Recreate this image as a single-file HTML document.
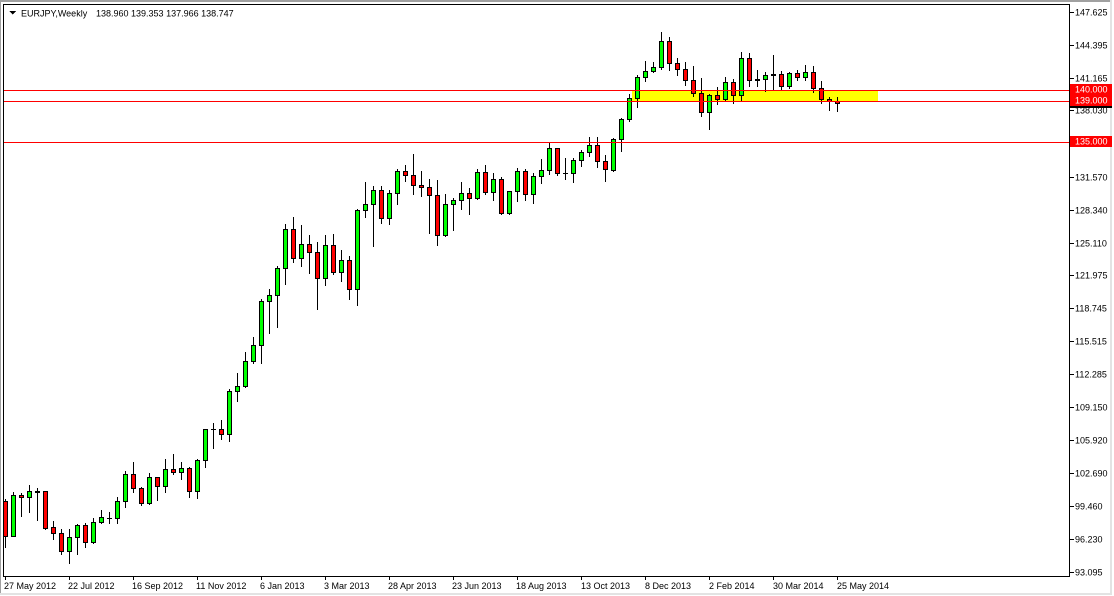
<!DOCTYPE html>
<html><head><meta charset="utf-8"><style>
html,body{margin:0;padding:0;background:#fff;}
svg{display:block;}
text{font-family:"Liberation Sans",sans-serif;font-size:9px;fill:#000;}
.g{fill:#00ff00;stroke:#000;stroke-width:1;}
.r{fill:#ff0000;stroke:#000;stroke-width:1;}
.w line{stroke:#000;stroke-width:1;}
</style></head><body>
<svg width="1114" height="596" viewBox="0 0 1114 596" xmlns="http://www.w3.org/2000/svg" shape-rendering="crispEdges">
<rect x="0" y="0" width="1114" height="596" fill="#fff"/>
<!-- outer border -->
<rect x="0" y="0" width="1112" height="2" fill="#a0a0a0"/>
<rect x="0" y="0" width="1" height="594" fill="#a0a0a0"/>
<rect x="1110" y="0" width="2" height="595" fill="#e3e3e3"/>
<rect x="0" y="593" width="1112" height="2" fill="#e3e3e3"/>

<!-- yellow zone -->
<rect x="632" y="90" width="246" height="12" fill="#ffff00"/>

<!-- candles -->
<g class="w">
<line x1="5.5" y1="499" x2="5.5" y2="548"/>
<line x1="13.5" y1="492" x2="13.5" y2="537"/>
<line x1="21.5" y1="493" x2="21.5" y2="517"/>
<line x1="29.5" y1="485" x2="29.5" y2="513"/>
<line x1="37.5" y1="488" x2="37.5" y2="521"/>
<line x1="45.5" y1="491" x2="45.5" y2="530"/>
<line x1="53.5" y1="521" x2="53.5" y2="540"/>
<line x1="61.5" y1="529" x2="61.5" y2="555"/>
<line x1="69.5" y1="529" x2="69.5" y2="564"/>
<line x1="77.5" y1="524" x2="77.5" y2="555"/>
<line x1="85.5" y1="523" x2="85.5" y2="548"/>
<line x1="93.5" y1="518" x2="93.5" y2="544"/>
<line x1="101.5" y1="510" x2="101.5" y2="524"/>
<line x1="109.5" y1="512" x2="109.5" y2="524"/>
<line x1="117.5" y1="497" x2="117.5" y2="524"/>
<line x1="125.5" y1="471" x2="125.5" y2="508"/>
<line x1="133.5" y1="462" x2="133.5" y2="493"/>
<line x1="141.5" y1="487" x2="141.5" y2="506"/>
<line x1="149.5" y1="473" x2="149.5" y2="505"/>
<line x1="157.5" y1="477" x2="157.5" y2="501"/>
<line x1="165.5" y1="459" x2="165.5" y2="493"/>
<line x1="173.5" y1="454" x2="173.5" y2="475"/>
<line x1="181.5" y1="462" x2="181.5" y2="480"/>
<line x1="189.5" y1="467" x2="189.5" y2="498"/>
<line x1="197.5" y1="459" x2="197.5" y2="499"/>
<line x1="205.5" y1="429" x2="205.5" y2="468"/>
<line x1="213.5" y1="423" x2="213.5" y2="449"/>
<line x1="221.5" y1="420" x2="221.5" y2="440"/>
<line x1="229.5" y1="389" x2="229.5" y2="442"/>
<line x1="237.5" y1="373" x2="237.5" y2="402"/>
<line x1="245.5" y1="352" x2="245.5" y2="388"/>
<line x1="253.5" y1="337" x2="253.5" y2="364"/>
<line x1="261.5" y1="299" x2="261.5" y2="364"/>
<line x1="269.5" y1="289" x2="269.5" y2="334"/>
<line x1="277.5" y1="266" x2="277.5" y2="328"/>
<line x1="285.5" y1="224" x2="285.5" y2="285"/>
<line x1="293.5" y1="217" x2="293.5" y2="263"/>
<line x1="301.5" y1="225" x2="301.5" y2="267"/>
<line x1="309.5" y1="235" x2="309.5" y2="274"/>
<line x1="317.5" y1="242" x2="317.5" y2="310"/>
<line x1="325.5" y1="235" x2="325.5" y2="286"/>
<line x1="333.5" y1="234" x2="333.5" y2="275"/>
<line x1="341.5" y1="250" x2="341.5" y2="282"/>
<line x1="349.5" y1="256" x2="349.5" y2="300"/>
<line x1="357.5" y1="209" x2="357.5" y2="306"/>
<line x1="365.5" y1="182" x2="365.5" y2="218"/>
<line x1="373.5" y1="186" x2="373.5" y2="247"/>
<line x1="381.5" y1="186" x2="381.5" y2="224"/>
<line x1="389.5" y1="190" x2="389.5" y2="225"/>
<line x1="397.5" y1="169" x2="397.5" y2="205"/>
<line x1="405.5" y1="165" x2="405.5" y2="182"/>
<line x1="413.5" y1="154" x2="413.5" y2="195"/>
<line x1="421.5" y1="171" x2="421.5" y2="197"/>
<line x1="429.5" y1="179" x2="429.5" y2="234"/>
<line x1="437.5" y1="180" x2="437.5" y2="246"/>
<line x1="445.5" y1="194" x2="445.5" y2="237"/>
<line x1="453.5" y1="198" x2="453.5" y2="231"/>
<line x1="461.5" y1="182" x2="461.5" y2="210"/>
<line x1="469.5" y1="188" x2="469.5" y2="215"/>
<line x1="477.5" y1="169" x2="477.5" y2="200"/>
<line x1="485.5" y1="165" x2="485.5" y2="195"/>
<line x1="493.5" y1="173" x2="493.5" y2="201"/>
<line x1="501.5" y1="177" x2="501.5" y2="215"/>
<line x1="509.5" y1="191" x2="509.5" y2="215"/>
<line x1="517.5" y1="168" x2="517.5" y2="202"/>
<line x1="525.5" y1="169" x2="525.5" y2="201"/>
<line x1="533.5" y1="173" x2="533.5" y2="204"/>
<line x1="541.5" y1="159" x2="541.5" y2="184"/>
<line x1="549.5" y1="142" x2="549.5" y2="175"/>
<line x1="557.5" y1="148" x2="557.5" y2="176"/>
<line x1="565.5" y1="158" x2="565.5" y2="180"/>
<line x1="573.5" y1="158" x2="573.5" y2="183"/>
<line x1="581.5" y1="150" x2="581.5" y2="167"/>
<line x1="589.5" y1="137" x2="589.5" y2="157"/>
<line x1="597.5" y1="137" x2="597.5" y2="168"/>
<line x1="605.5" y1="155" x2="605.5" y2="182"/>
<line x1="613.5" y1="138" x2="613.5" y2="172"/>
<line x1="621.5" y1="118" x2="621.5" y2="152"/>
<line x1="629.5" y1="94" x2="629.5" y2="122"/>
<line x1="637.5" y1="75" x2="637.5" y2="108"/>
<line x1="645.5" y1="61" x2="645.5" y2="82"/>
<line x1="653.5" y1="62" x2="653.5" y2="73"/>
<line x1="661.5" y1="32" x2="661.5" y2="70"/>
<line x1="669.5" y1="37" x2="669.5" y2="71"/>
<line x1="677.5" y1="58" x2="677.5" y2="76"/>
<line x1="685.5" y1="62" x2="685.5" y2="86"/>
<line x1="693.5" y1="66" x2="693.5" y2="97"/>
<line x1="701.5" y1="78" x2="701.5" y2="117"/>
<line x1="709.5" y1="94" x2="709.5" y2="130"/>
<line x1="717.5" y1="87" x2="717.5" y2="105"/>
<line x1="725.5" y1="77" x2="725.5" y2="102"/>
<line x1="733.5" y1="79" x2="733.5" y2="104"/>
<line x1="741.5" y1="52" x2="741.5" y2="101"/>
<line x1="749.5" y1="53" x2="749.5" y2="87"/>
<line x1="757.5" y1="70" x2="757.5" y2="87"/>
<line x1="765.5" y1="72" x2="765.5" y2="92"/>
<line x1="773.5" y1="55" x2="773.5" y2="91"/>
<line x1="781.5" y1="71" x2="781.5" y2="91"/>
<line x1="789.5" y1="72" x2="789.5" y2="89"/>
<line x1="797.5" y1="70" x2="797.5" y2="81"/>
<line x1="805.5" y1="65" x2="805.5" y2="81"/>
<line x1="813.5" y1="66" x2="813.5" y2="93"/>
<line x1="821.5" y1="81" x2="821.5" y2="104"/>
<line x1="829.5" y1="97" x2="829.5" y2="111"/>
<line x1="837.5" y1="97" x2="837.5" y2="112"/>
<!-- doji bars -->
<line x1="107" y1="518.5" x2="112" y2="518.5"/>
<line x1="211" y1="429.5" x2="216" y2="429.5"/>
<line x1="563" y1="173.5" x2="568" y2="173.5"/>
</g>
<g>
<rect class="r" x="3.5" y="501.5" width="4" height="35"/>
<rect class="g" x="11.5" y="495.5" width="4" height="41"/>
<rect class="r" x="19.5" y="495.5" width="4" height="2"/>
<rect class="g" x="27.5" y="491.5" width="4" height="6"/>
<rect class="g" x="35.5" y="491.5" width="4" height="1"/>
<rect class="r" x="43.5" y="491.5" width="4" height="37"/>
<rect class="r" x="51.5" y="527.5" width="4" height="6"/>
<rect class="r" x="59.5" y="533.5" width="4" height="18"/>
<rect class="g" x="67.5" y="537.5" width="4" height="14"/>
<rect class="g" x="75.5" y="525.5" width="4" height="12"/>
<rect class="r" x="83.5" y="525.5" width="4" height="17"/>
<rect class="g" x="91.5" y="522.5" width="4" height="20"/>
<rect class="g" x="99.5" y="517.5" width="4" height="5"/>
<rect class="g" x="115.5" y="501.5" width="4" height="17"/>
<rect class="g" x="123.5" y="474.5" width="4" height="27"/>
<rect class="r" x="131.5" y="474.5" width="4" height="14"/>
<rect class="r" x="139.5" y="488.5" width="4" height="15"/>
<rect class="g" x="147.5" y="477.5" width="4" height="26"/>
<rect class="r" x="155.5" y="477.5" width="4" height="9"/>
<rect class="g" x="163.5" y="469.5" width="4" height="17"/>
<rect class="r" x="171.5" y="469.5" width="4" height="3"/>
<rect class="g" x="179.5" y="468.5" width="4" height="4"/>
<rect class="r" x="187.5" y="468.5" width="4" height="23"/>
<rect class="g" x="195.5" y="460.5" width="4" height="31"/>
<rect class="g" x="203.5" y="429.5" width="4" height="31"/>
<rect class="r" x="219.5" y="429.5" width="4" height="5"/>
<rect class="g" x="227.5" y="391.5" width="4" height="43"/>
<rect class="g" x="235.5" y="386.5" width="4" height="5"/>
<rect class="g" x="243.5" y="361.5" width="4" height="25"/>
<rect class="g" x="251.5" y="345.5" width="4" height="16"/>
<rect class="g" x="259.5" y="301.5" width="4" height="44"/>
<rect class="g" x="267.5" y="295.5" width="4" height="6"/>
<rect class="g" x="275.5" y="268.5" width="4" height="27"/>
<rect class="g" x="283.5" y="229.5" width="4" height="39"/>
<rect class="r" x="291.5" y="229.5" width="4" height="29"/>
<rect class="g" x="299.5" y="244.5" width="4" height="14"/>
<rect class="r" x="307.5" y="244.5" width="4" height="8"/>
<rect class="r" x="315.5" y="252.5" width="4" height="26"/>
<rect class="g" x="323.5" y="245.5" width="4" height="33"/>
<rect class="r" x="331.5" y="245.5" width="4" height="27"/>
<rect class="g" x="339.5" y="260.5" width="4" height="12"/>
<rect class="r" x="347.5" y="260.5" width="4" height="29"/>
<rect class="g" x="355.5" y="210.5" width="4" height="79"/>
<rect class="g" x="363.5" y="204.5" width="4" height="6"/>
<rect class="g" x="371.5" y="190.5" width="4" height="14"/>
<rect class="r" x="379.5" y="190.5" width="4" height="28"/>
<rect class="g" x="387.5" y="193.5" width="4" height="25"/>
<rect class="g" x="395.5" y="171.5" width="4" height="22"/>
<rect class="r" x="403.5" y="171.5" width="4" height="4"/>
<rect class="r" x="411.5" y="175.5" width="4" height="10"/>
<rect class="r" x="419.5" y="185.5" width="4" height="2"/>
<rect class="r" x="427.5" y="187.5" width="4" height="8"/>
<rect class="r" x="435.5" y="195.5" width="4" height="40"/>
<rect class="g" x="443.5" y="204.5" width="4" height="31"/>
<rect class="g" x="451.5" y="200.5" width="4" height="4"/>
<rect class="g" x="459.5" y="193.5" width="4" height="7"/>
<rect class="r" x="467.5" y="193.5" width="4" height="5"/>
<rect class="g" x="475.5" y="172.5" width="4" height="26"/>
<rect class="r" x="483.5" y="172.5" width="4" height="20"/>
<rect class="g" x="491.5" y="179.5" width="4" height="13"/>
<rect class="r" x="499.5" y="179.5" width="4" height="34"/>
<rect class="g" x="507.5" y="191.5" width="4" height="22"/>
<rect class="g" x="515.5" y="171.5" width="4" height="20"/>
<rect class="r" x="523.5" y="171.5" width="4" height="23"/>
<rect class="g" x="531.5" y="176.5" width="4" height="18"/>
<rect class="g" x="539.5" y="170.5" width="4" height="6"/>
<rect class="g" x="547.5" y="148.5" width="4" height="22"/>
<rect class="r" x="555.5" y="148.5" width="4" height="25"/>
<rect class="g" x="571.5" y="160.5" width="4" height="13"/>
<rect class="g" x="579.5" y="152.5" width="4" height="8"/>
<rect class="g" x="587.5" y="145.5" width="4" height="7"/>
<rect class="r" x="595.5" y="145.5" width="4" height="16"/>
<rect class="r" x="603.5" y="161.5" width="4" height="8"/>
<rect class="g" x="611.5" y="139.5" width="4" height="31"/>
<rect class="g" x="619.5" y="119.5" width="4" height="20"/>
<rect class="g" x="627.5" y="98.5" width="4" height="21"/>
<rect class="g" x="635.5" y="77.5" width="4" height="21"/>
<rect class="g" x="643.5" y="71.5" width="4" height="6"/>
<rect class="g" x="651.5" y="67.5" width="4" height="4"/>
<rect class="g" x="659.5" y="41.5" width="4" height="26"/>
<rect class="r" x="667.5" y="41.5" width="4" height="22"/>
<rect class="r" x="675.5" y="63.5" width="4" height="6"/>
<rect class="r" x="683.5" y="69.5" width="4" height="11"/>
<rect class="r" x="691.5" y="80.5" width="4" height="13"/>
<rect class="r" x="699.5" y="93.5" width="4" height="19"/>
<rect class="g" x="707.5" y="95.5" width="4" height="17"/>
<rect class="r" x="715.5" y="95.5" width="4" height="4"/>
<rect class="g" x="723.5" y="82.5" width="4" height="17"/>
<rect class="r" x="731.5" y="82.5" width="4" height="13"/>
<rect class="g" x="739.5" y="58.5" width="4" height="37"/>
<rect class="r" x="747.5" y="58.5" width="4" height="22"/>
<rect class="r" x="755.5" y="79.5" width="4" height="1"/>
<rect class="g" x="763.5" y="75.5" width="4" height="4"/>
<rect class="g" x="771.5" y="74.5" width="4" height="1"/>
<rect class="r" x="779.5" y="74.5" width="4" height="12"/>
<rect class="g" x="787.5" y="73.5" width="4" height="13"/>
<rect class="r" x="795.5" y="73.5" width="4" height="4"/>
<rect class="g" x="803.5" y="72.5" width="4" height="5"/>
<rect class="r" x="811.5" y="72.5" width="4" height="16"/>
<rect class="r" x="819.5" y="88.5" width="4" height="11"/>
<rect class="r" x="827.5" y="99.5" width="4" height="2"/>
<rect class="r" x="835.5" y="101.5" width="4" height="2"/>
</g>

<!-- horizontal lines -->
<rect x="4" y="90" width="1065" height="1" fill="#ff0000"/>
<rect x="4" y="101" width="1065" height="1" fill="#ff0000"/>
<rect x="4" y="142" width="1065" height="1" fill="#ff0000"/>

<!-- plot frame -->
<rect x="3.5" y="4.5" width="1066" height="572" fill="none" stroke="#000" stroke-width="1"/>

<!-- title -->
<polygon points="9,11 16,11 12.5,14.5" fill="#000"/>
<text x="21" y="16.5">EURJPY,Weekly</text>
<text x="96" y="16.5">138.960 139.353 137.966 138.747</text>

<!-- price axis ticks -->
<g fill="#000">
<rect x="1070" y="12" width="4" height="1"/>
<rect x="1070" y="45" width="4" height="1"/>
<rect x="1070" y="78" width="4" height="1"/>
<rect x="1070" y="110" width="4" height="1"/>
<rect x="1070" y="177" width="4" height="1"/>
<rect x="1070" y="210" width="4" height="1"/>
<rect x="1070" y="243" width="4" height="1"/>
<rect x="1070" y="275" width="4" height="1"/>
<rect x="1070" y="308" width="4" height="1"/>
<rect x="1070" y="341" width="4" height="1"/>
<rect x="1070" y="374" width="4" height="1"/>
<rect x="1070" y="407" width="4" height="1"/>
<rect x="1070" y="440" width="4" height="1"/>
<rect x="1070" y="473" width="4" height="1"/>
<rect x="1070" y="506" width="4" height="1"/>
<rect x="1070" y="539" width="4" height="1"/>
<rect x="1070" y="572" width="4" height="1"/>
</g>
<g>
<text x="1075" y="15.5">147.625</text>
<text x="1075" y="48.5">144.395</text>
<text x="1075" y="81.5">141.165</text>
<text x="1075" y="113.5">138.030</text>
<text x="1075" y="180.5">131.570</text>
<text x="1075" y="213.5">128.340</text>
<text x="1075" y="246.5">125.110</text>
<text x="1075" y="278.5">121.975</text>
<text x="1075" y="311.5">118.745</text>
<text x="1075" y="344.5">115.515</text>
<text x="1075" y="377.5">112.285</text>
<text x="1075" y="410.5">109.150</text>
<text x="1075" y="443.5">105.920</text>
<text x="1075" y="476.5">102.690</text>
<text x="1075" y="509.5">99.460</text>
<text x="1075" y="542.5">96.230</text>
<text x="1075" y="575.5">93.095</text>
</g>

<!-- price label boxes -->
<rect x="1070" y="97" width="42" height="11" fill="#000"/>
<rect x="1070" y="84" width="42" height="11" fill="#ff0000"/>
<rect x="1070" y="95" width="42" height="11" fill="#ff0000"/>
<rect x="1070" y="136" width="42" height="11" fill="#ff0000"/>
<text x="1075" y="92.5" style="fill:#fff">140.000</text>
<text x="1075" y="103.5" style="fill:#fff">139.000</text>
<text x="1075" y="144.5" style="fill:#fff">135.000</text>

<!-- time axis ticks -->
<g fill="#000">
<rect x="5" y="577" width="1" height="3"/>
<rect x="69" y="577" width="1" height="3"/>
<rect x="133" y="577" width="1" height="3"/>
<rect x="197" y="577" width="1" height="3"/>
<rect x="261" y="577" width="1" height="3"/>
<rect x="325" y="577" width="1" height="3"/>
<rect x="389" y="577" width="1" height="3"/>
<rect x="453" y="577" width="1" height="3"/>
<rect x="517" y="577" width="1" height="3"/>
<rect x="581" y="577" width="1" height="3"/>
<rect x="645" y="577" width="1" height="3"/>
<rect x="709" y="577" width="1" height="3"/>
<rect x="773" y="577" width="1" height="3"/>
<rect x="837" y="577" width="1" height="3"/>
</g>
<g>
<text x="4" y="589">27 May 2012</text>
<text x="68" y="589">22 Jul 2012</text>
<text x="132" y="589">16 Sep 2012</text>
<text x="196" y="589">11 Nov 2012</text>
<text x="260" y="589">6 Jan 2013</text>
<text x="324" y="589">3 Mar 2013</text>
<text x="388" y="589">28 Apr 2013</text>
<text x="452" y="589">23 Jun 2013</text>
<text x="516" y="589">18 Aug 2013</text>
<text x="581" y="589">13 Oct 2013</text>
<text x="645" y="589">8 Dec 2013</text>
<text x="709" y="589">2 Feb 2014</text>
<text x="773" y="589">30 Mar 2014</text>
<text x="837" y="589">25 May 2014</text>
</g>
</svg>
</body></html>
